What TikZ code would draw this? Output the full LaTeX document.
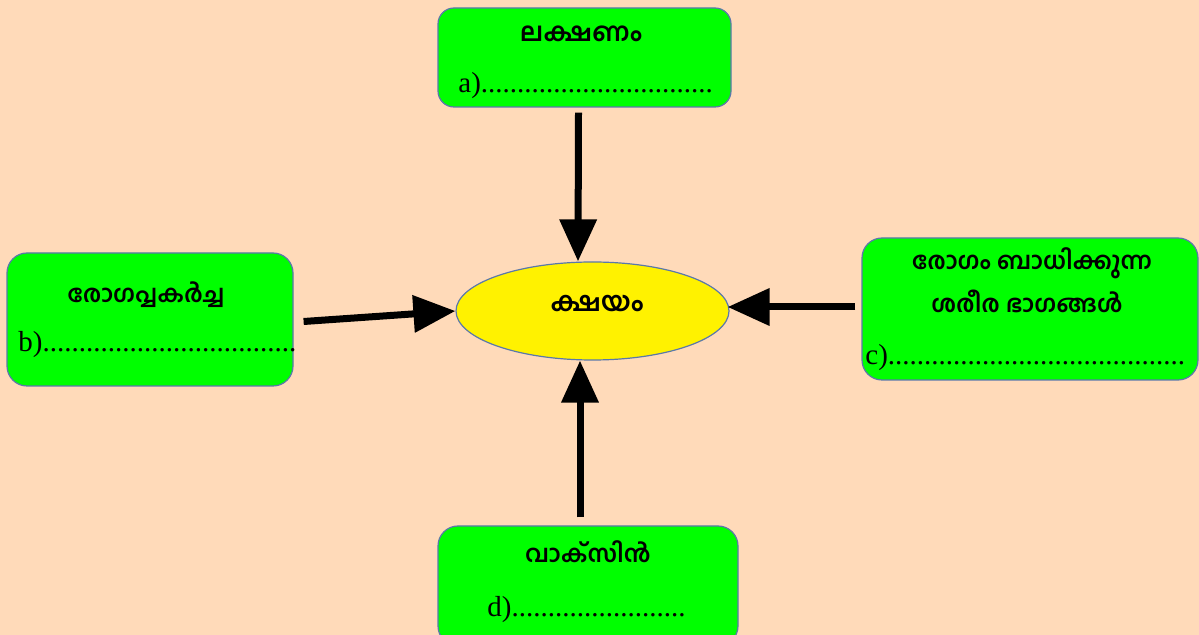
\documentclass[tikz,border=0pt]{standalone}
\usepackage{fontspec}
\setmainfont{Liberation Serif}
\newfontfamily\mlfont[Script=Malayalam]{Hind Kochi}
\usetikzlibrary{positioning,arrows.meta,shapes.geometric}

\definecolor{peach}{RGB}{255,218,185}
\definecolor{boxgreen}{RGB}{0,255,0}
\definecolor{edgeblue}{RGB}{90,120,170}

\tikzset{
  topic/.style={draw=edgeblue, line width=0.6pt, fill=boxgreen, rounded corners=8pt, inner sep=0pt},
  disease/.style={ellipse, draw=edgeblue, line width=0.6pt, fill=yellow, inner sep=0pt,
    minimum width=136.5pt, minimum height=49pt},
  heading/.style={font=\mlfont\bfseries\fontsize{12}{14}\selectfont, inner sep=0pt, anchor=base},
  blank/.style={font=\fontsize{14.5}{16}\selectfont, inner sep=0pt, anchor=base west},
  link/.style={line width=3.5pt, -{Triangle[length=21pt,width=18pt]}},
}
\newcommand{\answerdots}[1]{\foreach \k in {1,...,#1}{.}}

\begin{document}
\begin{tikzpicture}[x=0.5pt,y=-0.5pt]

  \fill[peach] (0,0) rectangle (1199,635);
  \useasboundingbox (0,0) rectangle (1199,635);
  \clip (0,0) rectangle (1199,635);

  % centre
  \node (kshayam) [disease] at (592.5,311) {};
  \node (kshayamtext) [heading, font=\mlfont\bfseries\fontsize{13.5}{15}\selectfont] at (597,312) {ക്ഷയം};

  % boxes
  \node (lakshanam) [topic, minimum width=146.5pt, minimum height=49.5pt] at (584.5,57.5) {};
  \node (pakarcha) [topic, rounded corners=10pt, minimum width=143pt, minimum height=66.5pt] at (150,319.5) {};
  \node (bhagangal) [topic, rounded corners=10pt, minimum width=168pt, minimum height=71pt] at (1030,309) {};
  \node (vaccine) [topic, rounded corners=10pt, minimum width=150pt, minimum height=60pt] at (588,586) {};

  % headings
  \node (lakshanamtitle) [heading, font=\mlfont\bfseries\fontsize{13}{15}\selectfont] at (581,42) {ലക്ഷണം};
  \node (pakarchatitle) [heading] at (146,303) {രോഗപ്പകർച്ച};
  \node (bhagangaltitle) [heading] at (1032,270) {രോഗം ബാധിക്കുന്ന};
  \node (bhagangaltitle2) [heading] at (1027,313) {ശരീര ഭാഗങ്ങൾ};
  \node (vaccinetitle) [heading] at (588,563) {വാക്സിൻ};

  % answer lines
  \node (lakshanamblank) [blank] at (458,93) {a)\answerdots{32}};
  \node (pakarchablank) [blank] at (18,352) {b)\answerdots{35}};
  \node (bhagangalblank) [blank] at (865,365) {c)\answerdots{41}};
  \node (vaccineblank) [blank] at (487,617) {d)\answerdots{24}};

  % arrows
  \draw [link] ([xshift=-3pt, yshift=-2.5pt]lakshanam.south) -- ([xshift=-7.25pt]kshayam.north);
  \draw [link] ([xshift=5pt, yshift=-1pt]pakarcha.east) -- (kshayam.west);
  \draw [link] ([xshift=-3pt, yshift=1pt]bhagangal.west) -- ([xshift=-1pt, yshift=2pt]kshayam.east);
  \draw [link] ([xshift=-4pt, yshift=4pt]vaccine.north) -- ([xshift=-6.25pt]kshayam.south);

\end{tikzpicture}
\end{document}
